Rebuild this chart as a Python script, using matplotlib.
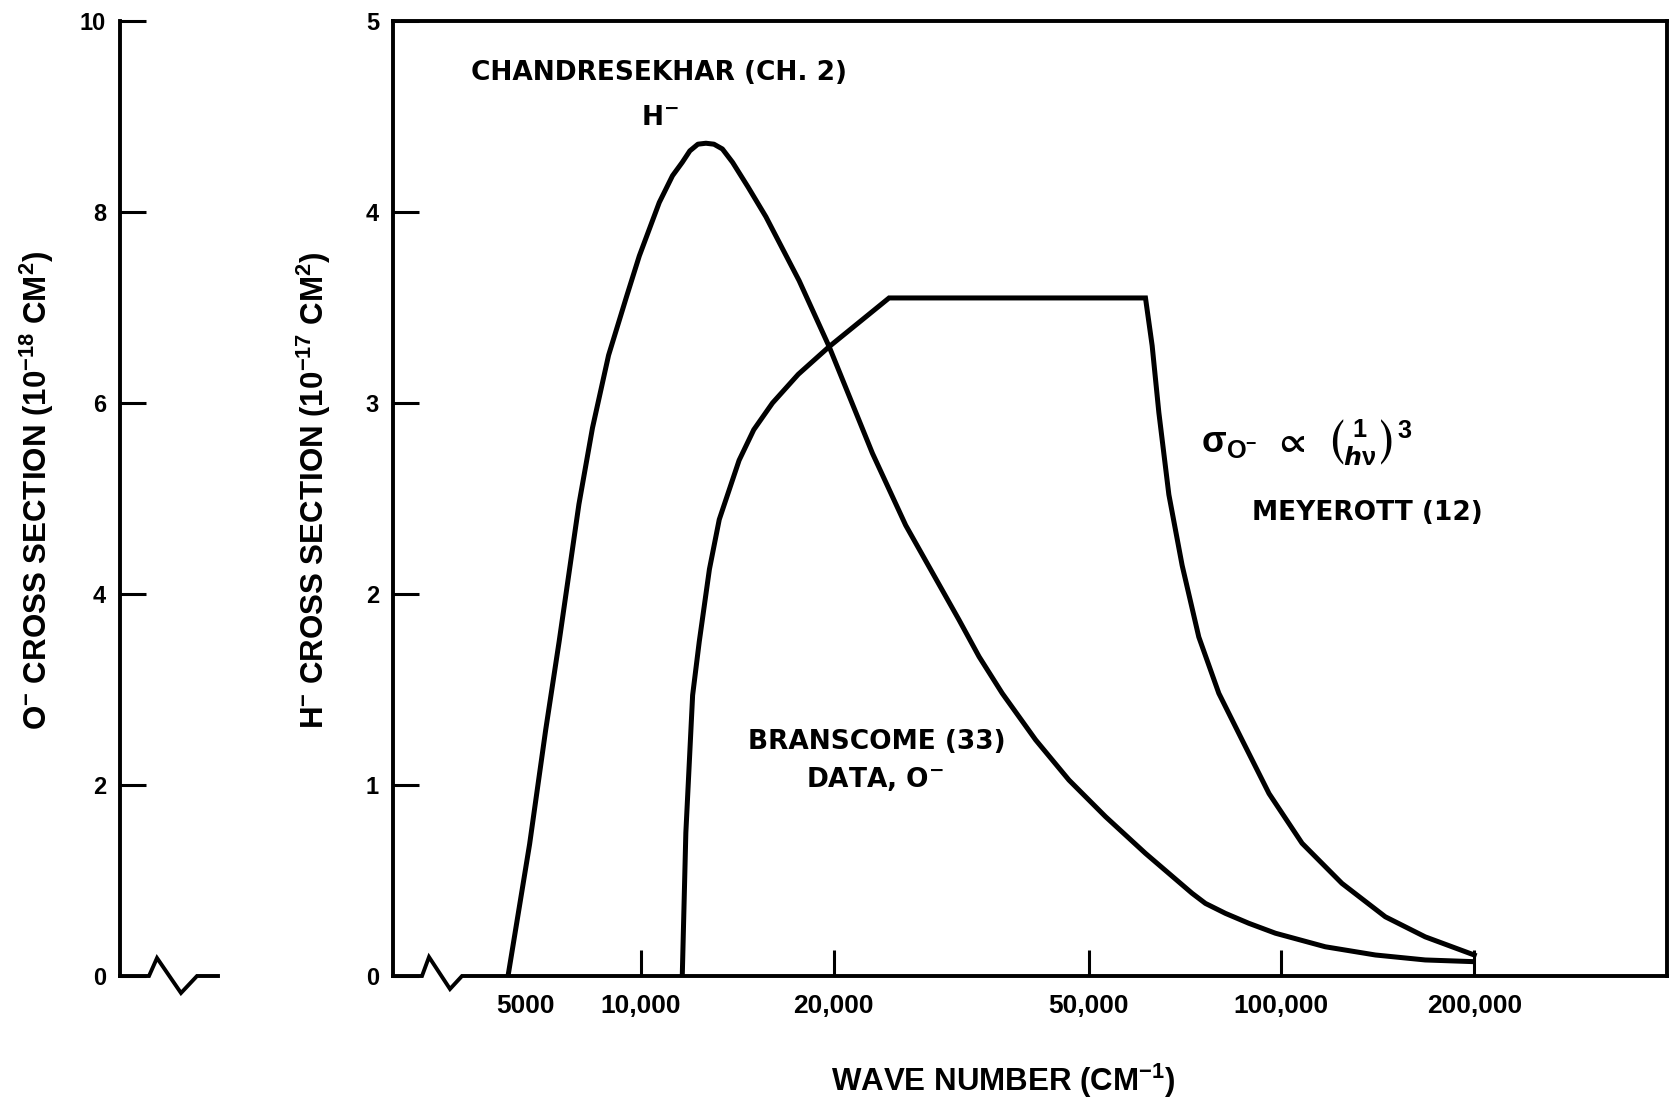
import matplotlib
matplotlib.use('Agg')
import matplotlib.pyplot as plt
from matplotlib.lines import Line2D

# H- photodetachment (Chandresekhar), units of 1e-17 cm^2
h_wavenumber = [6200, 6700, 7100, 7450, 8000, 8400, 8900, 9500, 9940, 10680,
                11200, 11600, 11920, 12270, 12630, 13000, 13400, 13900, 14700,
                15670, 17660, 19670, 22980, 25900, 31380, 33720, 36650, 41330,
                46580, 53140, 61340, 72530, 76100, 81760, 88930, 97860, 117100,
                140200, 167700, 200000]
h_sigma = [0, 0.69, 1.29, 1.75, 2.47, 2.87, 3.25, 3.56, 3.77, 4.05,
           4.19, 4.26, 4.32, 4.355, 4.36, 4.355, 4.33, 4.26, 4.13,
           3.975, 3.64, 3.295, 2.737, 2.36, 1.864, 1.672, 1.48, 1.236,
           1.026, 0.834, 0.642, 0.433, 0.38, 0.328, 0.276, 0.224, 0.153,
           0.110, 0.084, 0.075]

# O- (Branscome data + Meyerott 1/(h nu)^3 tail), units of 1e-18 cm^2
o_wavenumber = [11600, 11750, 12040, 12330, 12790, 13250, 14230, 15000, 16045,
                17600, 19670, 24400, 61340, 62830, 64360, 66720, 69980, 74300,
                79850, 86840, 95650, 107700, 124300, 145300, 167700, 200000]
o_sigma = [0, 1.5, 2.94, 3.5, 4.26, 4.78, 5.40, 5.72, 6.0,
           6.30, 6.59, 7.1, 7.1, 6.60, 5.90, 5.04, 4.30, 3.55,
           2.96, 2.47, 1.91, 1.39, 0.97, 0.62, 0.41, 0.22]

x_ticks = [10000, 20000, 50000, 100000, 200000]
x_ticklabels = ['10,000', '20,000', '50,000', '100,000', '200,000']
h_ticks = [0, 1, 2, 3, 4, 5]
o_ticks = [0, 2, 4, 6, 8, 10]

plt.rcParams['font.family'] = ['Liberation Sans', 'DejaVu Sans']
plt.rcParams['font.weight'] = 'bold'
plt.rcParams['mathtext.default'] = 'regular'

W, H = 1670, 1100
fig = plt.figure(figsize=(W / 100, H / 100), dpi=100)

LW = 3.6      # curve width
SW = 2.8      # spine width

# main H- axes
ax = fig.add_axes([393 / W, 1 - 976 / H, (1667 - 393) / W, (976 - 21) / H])
ax.set_xscale('log')
ax.set_xlim(4100, 400000)
ax.set_ylim(0, 5)
ax.plot(h_wavenumber, h_sigma, color='black', lw=LW, solid_capstyle='butt')

ax_o = ax.twinx()
ax_o.set_ylim(0, 10)
ax_o.plot(o_wavenumber, o_sigma, color='black', lw=LW, solid_joinstyle='miter')
ax_o.axis('off')

for s in ['left', 'top', 'right']:
    ax.spines[s].set_linewidth(SW)
ax.spines['bottom'].set_visible(False)

ax.set_xticks(x_ticks)
ax.set_xticklabels(x_ticklabels, fontsize=19, fontweight='bold')
ax.xaxis.set_minor_locator(matplotlib.ticker.NullLocator())
ax.tick_params(axis='x', direction='in', length=19, width=2.2, pad=13)
# the original prints "5000" right of the axis break, not at its log position
ax.set_xticks([6600], ['5000'], minor=True)
ax.tick_params(axis='x', which='minor', length=0, pad=13, labelsize=19)

ax.set_yticks(h_ticks)
ax.set_yticklabels([str(v) for v in h_ticks], fontsize=17, fontweight='bold')
ax.tick_params(axis='y', direction='in', length=19, width=2.2, pad=10)

# left O- axis
axl = fig.add_axes([120 / W, 1 - 976 / H, (218 - 120) / W, (976 - 21) / H])
axl.set_ylim(0, 10)
axl.set_xticks([])
axl.set_yticks(o_ticks)
axl.set_yticklabels([str(v) for v in o_ticks], fontsize=17, fontweight='bold')
axl.tick_params(axis='y', direction='in', length=19, width=2.2, pad=10)
axl.spines['left'].set_linewidth(SW)
for s in ['top', 'right', 'bottom']:
    axl.spines[s].set_visible(False)
axl.patch.set_alpha(0)


def baseline(pts):
    xs = [p[0] / W for p in pts]
    ys = [1 - p[1] / H for p in pts]
    fig.add_artist(Line2D(xs, ys, transform=fig.transFigure, color='black',
                          lw=SW, solid_joinstyle='miter'))


# bottom axes lines with the break symbol
baseline([(393, 976), (422, 976), (429, 957), (450, 989), (462, 976), (1667, 976)])
baseline([(120, 976), (149, 976), (157, 958), (181, 993), (197, 976), (218, 976)])

# annotations
ann = dict(color='black', fontweight='bold', fontsize=19, fontfamily='DejaVu Sans')
ax.text(5430, 4.73, 'CHANDRESEKHAR (CH. 2)', ha='left', va='center', **ann)
ax.text(10720, 4.49, r'H$^{-}$', ha='center', va='center', **ann)
ax.text(23340, 1.225, 'BRANSCOME (33)', ha='center', va='center', **ann)
ax.text(23210, 1.03, r'DATA, O$^{-}$', ha='center', va='center', **ann)
ax.text(75000, 2.79, r'$\sigma_{O^{-}}\ \propto\ {\binom{1}{\mathit{h}\nu}}^{3}$',
        ha='left', va='center', fontsize=26, color='black')
ax.text(136300, 2.424, 'MEYEROTT (12)', ha='center', va='center', **ann)

lab = dict(fontweight='bold', fontsize=22.5, color='black')
fig.text(37 / W, 1 - 490 / H, r'O$^{-}$ CROSS SECTION (10$^{-18}$ CM$^{2}$)',
         rotation=90, ha='center', va='center', **lab)
fig.text(314 / W, 1 - 490 / H, r'H$^{-}$ CROSS SECTION (10$^{-17}$ CM$^{2}$)',
         rotation=90, ha='center', va='center', **lab)
fig.text(1003 / W, 1 - 1081 / H, r'WAVE NUMBER (CM$^{-1}$)',
         ha='center', va='center', **lab)

fig.savefig('out.png', dpi=100, facecolor='white')
